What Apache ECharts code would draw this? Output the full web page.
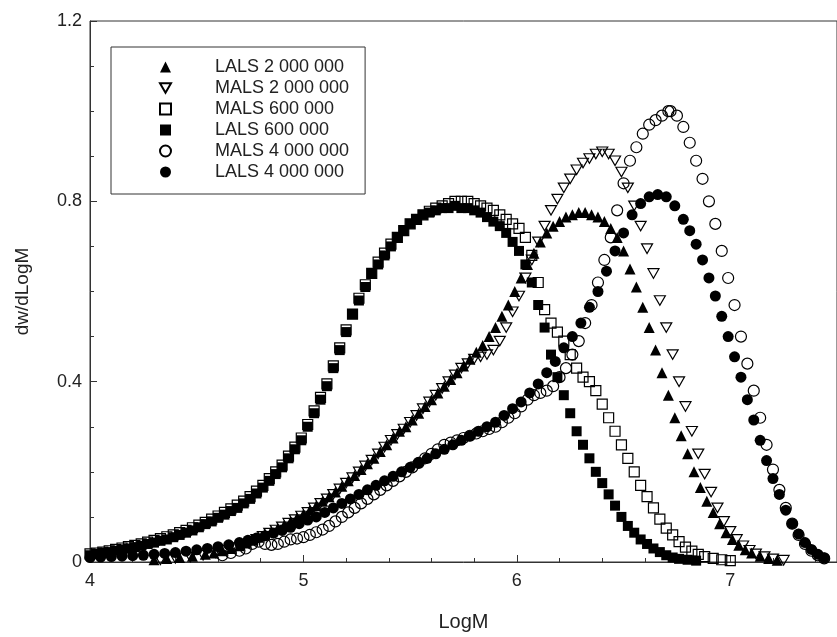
<!DOCTYPE html>
<html>
<head>
<meta charset="utf-8">
<script src="https://cdn.jsdelivr.net/npm/echarts@6/dist/echarts.min.js"></script>
<style>
  html, body { margin: 0; padding: 0; background: #fff; }
  #chart { width: 837px; height: 637px; }
</style>
</head>
<body>
<div id="chart"></div>
<script>
// Molar mass distributions (dw/dLogM vs LogM) from LALS and MALS detection

const xTicks = [4, 5, 6, 7];
const yTicks = [0, 0.4, 0.8, 1.2];

const lals2mX = [4.30,4.36,4.42,4.48,4.54,4.58,4.62,4.66,4.70,4.73,4.76,4.79,4.82,4.85,4.88,4.91,4.94,4.97,5.00,5.03,5.06,5.09,5.12,5.15,5.18,5.21,5.24,5.27,5.30,5.33,5.36,5.39,5.42,5.45,5.48,5.51,5.54,5.57,5.60,5.63,5.66,5.69,5.72,5.75,5.78,5.81,5.84,5.87,5.90,5.93,5.96,5.99,6.02,6.05,6.08,6.11,6.14,6.17,6.20,6.23,6.26,6.29,6.32,6.35,6.38,6.41,6.44,6.47,6.50,6.53,6.56,6.59,6.62,6.65,6.68,6.71,6.74,6.77,6.80,6.83,6.86,6.89,6.92,6.95,6.98,7.01,7.04,7.07,7.10,7.14,7.18,7.22];
const lals2mY = [0.005,0.008,0.01,0.013,0.017,0.02,0.025,0.03,0.036,0.042,0.048,0.055,0.062,0.068,0.075,0.082,0.09,0.098,0.106,0.115,0.125,0.135,0.145,0.155,0.168,0.18,0.192,0.205,0.218,0.23,0.245,0.26,0.275,0.29,0.30,0.315,0.33,0.345,0.36,0.375,0.39,0.405,0.42,0.435,0.45,0.465,0.48,0.50,0.52,0.545,0.57,0.60,0.63,0.66,0.685,0.71,0.73,0.745,0.755,0.765,0.77,0.775,0.775,0.77,0.765,0.755,0.74,0.72,0.69,0.65,0.61,0.565,0.52,0.47,0.42,0.37,0.32,0.28,0.24,0.20,0.165,0.135,0.11,0.085,0.065,0.05,0.037,0.027,0.02,0.013,0.008,0.004];

const mals2mX = [4.33,4.40,4.47,4.53,4.59,4.64,4.68,4.72,4.75,4.78,4.81,4.84,4.87,4.90,4.93,4.96,4.99,5.02,5.05,5.08,5.11,5.14,5.17,5.20,5.23,5.26,5.29,5.32,5.35,5.38,5.41,5.44,5.47,5.50,5.53,5.56,5.59,5.62,5.65,5.68,5.71,5.74,5.77,5.80,5.83,5.86,5.89,5.92,5.95,5.98,6.01,6.04,6.07,6.10,6.13,6.16,6.19,6.22,6.25,6.28,6.31,6.34,6.37,6.40,6.43,6.46,6.49,6.52,6.55,6.58,6.61,6.64,6.67,6.70,6.73,6.76,6.79,6.82,6.85,6.88,6.91,6.94,6.97,7.00,7.03,7.06,7.09,7.12,7.16,7.20,7.25];
const mals2mY = [0.005,0.008,0.011,0.015,0.02,0.026,0.032,0.038,0.044,0.05,0.057,0.064,0.071,0.078,0.086,0.094,0.102,0.11,0.12,0.13,0.14,0.15,0.162,0.175,0.187,0.20,0.213,0.226,0.24,0.255,0.27,0.283,0.295,0.31,0.325,0.34,0.355,0.37,0.385,0.40,0.415,0.43,0.44,0.45,0.455,0.46,0.47,0.49,0.52,0.555,0.59,0.63,0.67,0.71,0.745,0.78,0.805,0.83,0.85,0.87,0.885,0.895,0.905,0.91,0.905,0.89,0.865,0.83,0.79,0.745,0.695,0.64,0.58,0.52,0.46,0.40,0.345,0.29,0.24,0.195,0.155,0.12,0.09,0.068,0.05,0.036,0.026,0.018,0.012,0.007,0.004];

const mals600kX = [4.00,4.03,4.06,4.09,4.12,4.15,4.18,4.21,4.24,4.27,4.30,4.33,4.36,4.39,4.42,4.45,4.48,4.51,4.54,4.57,4.60,4.63,4.66,4.69,4.72,4.75,4.78,4.81,4.84,4.87,4.90,4.93,4.96,4.99,5.02,5.05,5.08,5.11,5.14,5.17,5.20,5.23,5.26,5.29,5.32,5.35,5.38,5.41,5.44,5.47,5.50,5.53,5.56,5.59,5.62,5.65,5.68,5.71,5.74,5.77,5.80,5.83,5.86,5.89,5.92,5.95,5.98,6.01,6.04,6.07,6.10,6.13,6.16,6.19,6.22,6.25,6.28,6.31,6.34,6.37,6.40,6.43,6.46,6.49,6.52,6.55,6.58,6.61,6.64,6.67,6.70,6.73,6.76,6.79,6.82,6.85,6.88,6.92,6.96,7.00];
const mals600kY = [0.018,0.02,0.022,0.025,0.028,0.031,0.034,0.037,0.04,0.044,0.048,0.052,0.056,0.06,0.065,0.07,0.076,0.082,0.088,0.095,0.102,0.11,0.118,0.126,0.135,0.145,0.157,0.17,0.185,0.20,0.215,0.235,0.255,0.275,0.305,0.335,0.365,0.395,0.435,0.475,0.515,0.55,0.585,0.615,0.64,0.665,0.685,0.705,0.72,0.735,0.75,0.76,0.77,0.778,0.785,0.79,0.795,0.80,0.80,0.80,0.795,0.79,0.785,0.78,0.77,0.76,0.75,0.74,0.72,0.68,0.62,0.56,0.53,0.51,0.49,0.46,0.43,0.41,0.40,0.38,0.35,0.32,0.29,0.26,0.23,0.20,0.17,0.145,0.12,0.095,0.075,0.06,0.045,0.033,0.024,0.017,0.012,0.008,0.005,0.003];

const lals600kX = [4.00,4.03,4.06,4.09,4.12,4.15,4.18,4.21,4.24,4.27,4.30,4.33,4.36,4.39,4.42,4.45,4.48,4.51,4.54,4.57,4.60,4.63,4.66,4.69,4.72,4.75,4.78,4.81,4.84,4.87,4.90,4.93,4.96,4.99,5.02,5.05,5.08,5.11,5.14,5.17,5.20,5.23,5.26,5.29,5.32,5.35,5.38,5.41,5.44,5.47,5.50,5.53,5.56,5.59,5.62,5.65,5.68,5.71,5.74,5.77,5.80,5.83,5.86,5.89,5.92,5.95,5.98,6.01,6.04,6.07,6.10,6.13,6.16,6.19,6.22,6.25,6.28,6.31,6.34,6.37,6.40,6.43,6.46,6.49,6.52,6.55,6.58,6.61,6.64,6.67,6.70,6.73,6.76,6.80,6.84];
const lals600kY = [0.015,0.018,0.02,0.022,0.025,0.028,0.03,0.033,0.036,0.04,0.043,0.047,0.05,0.055,0.06,0.065,0.07,0.077,0.084,0.09,0.098,0.105,0.113,0.12,0.13,0.14,0.152,0.165,0.18,0.195,0.21,0.23,0.25,0.27,0.30,0.33,0.36,0.39,0.43,0.47,0.51,0.55,0.58,0.61,0.64,0.66,0.68,0.70,0.72,0.735,0.75,0.76,0.77,0.775,0.78,0.785,0.785,0.79,0.785,0.785,0.78,0.775,0.765,0.755,0.745,0.73,0.71,0.69,0.66,0.62,0.57,0.52,0.46,0.41,0.37,0.33,0.29,0.26,0.23,0.20,0.175,0.15,0.125,0.10,0.08,0.065,0.05,0.04,0.03,0.022,0.015,0.01,0.007,0.005,0.003];

const mals4mX = [4.62,4.66,4.70,4.73,4.76,4.79,4.82,4.85,4.88,4.91,4.94,4.97,5.00,5.03,5.06,5.09,5.12,5.15,5.18,5.21,5.24,5.27,5.30,5.33,5.36,5.39,5.42,5.45,5.48,5.51,5.54,5.57,5.60,5.63,5.66,5.69,5.72,5.75,5.78,5.81,5.84,5.87,5.90,5.93,5.96,5.99,6.02,6.05,6.08,6.11,6.14,6.17,6.20,6.23,6.26,6.29,6.32,6.35,6.38,6.41,6.44,6.47,6.50,6.53,6.56,6.59,6.62,6.65,6.68,6.71,6.72,6.75,6.78,6.81,6.84,6.87,6.90,6.93,6.96,6.99,7.02,7.05,7.08,7.11,7.14,7.17,7.20,7.23,7.26,7.29,7.32,7.35,7.38,7.41,7.44];
const mals4mY = [0.015,0.02,0.025,0.03,0.04,0.045,0.04,0.038,0.04,0.045,0.05,0.052,0.055,0.06,0.066,0.072,0.08,0.09,0.10,0.11,0.12,0.13,0.14,0.15,0.16,0.17,0.18,0.19,0.20,0.21,0.22,0.23,0.24,0.25,0.26,0.265,0.27,0.275,0.28,0.285,0.29,0.295,0.30,0.31,0.32,0.33,0.345,0.36,0.37,0.375,0.38,0.39,0.41,0.43,0.46,0.49,0.53,0.57,0.62,0.67,0.72,0.78,0.84,0.89,0.92,0.95,0.97,0.98,0.99,1.0,1.0,0.99,0.965,0.93,0.89,0.85,0.80,0.75,0.69,0.63,0.57,0.50,0.44,0.38,0.32,0.26,0.205,0.16,0.12,0.085,0.06,0.04,0.025,0.015,0.008];

const lals4mX = [4.00,4.05,4.10,4.15,4.20,4.25,4.30,4.35,4.40,4.45,4.50,4.55,4.60,4.65,4.70,4.74,4.78,4.82,4.86,4.90,4.94,4.98,5.02,5.06,5.10,5.14,5.18,5.22,5.26,5.30,5.34,5.38,5.42,5.46,5.50,5.54,5.58,5.62,5.66,5.70,5.74,5.78,5.82,5.86,5.90,5.94,5.98,6.02,6.06,6.10,6.14,6.18,6.22,6.26,6.30,6.34,6.38,6.42,6.46,6.50,6.54,6.58,6.62,6.66,6.70,6.74,6.78,6.81,6.84,6.87,6.90,6.93,6.96,6.99,7.02,7.05,7.08,7.11,7.14,7.17,7.20,7.23,7.26,7.29,7.32,7.35,7.38,7.41,7.44];
const lals4mY = [0.01,0.011,0.012,0.013,0.014,0.015,0.017,0.019,0.021,0.024,0.027,0.03,0.034,0.038,0.043,0.048,0.053,0.058,0.064,0.07,0.077,0.085,0.093,0.10,0.11,0.12,0.13,0.14,0.15,0.16,0.17,0.18,0.19,0.20,0.21,0.22,0.23,0.24,0.25,0.26,0.27,0.28,0.29,0.30,0.31,0.325,0.34,0.355,0.375,0.395,0.42,0.445,0.475,0.50,0.53,0.565,0.60,0.645,0.69,0.73,0.77,0.795,0.81,0.815,0.81,0.79,0.76,0.735,0.705,0.67,0.63,0.59,0.545,0.50,0.455,0.41,0.36,0.315,0.27,0.225,0.185,0.15,0.115,0.085,0.062,0.043,0.028,0.017,0.009];

function pairs(xs, ys) {
  return xs.map((x, i) => [x, ys[i]]);
}

const INK = '#000';
const hollow = { color: 'rgba(255,255,255,0)', borderColor: INK, borderWidth: 1.2, opacity: 1 };
const solid = { color: INK, borderColor: INK, borderWidth: 0, opacity: 1 };
const DOWN_TRIANGLE = 'path://M0,0L20,0L10,17.32Z';

const series = [
  { name: 'LALS 2 000 000', symbol: 'triangle', symbolSize: 11, itemStyle: solid, xs: lals2mX, ys: lals2mY },
  { name: 'MALS 2 000 000', symbol: DOWN_TRIANGLE, symbolSize: 11, itemStyle: hollow, xs: mals2mX, ys: mals2mY },
  { name: 'MALS 600 000', symbol: 'rect', symbolSize: 10, itemStyle: hollow, xs: mals600kX, ys: mals600kY },
  { name: 'LALS 600 000', symbol: 'rect', symbolSize: 10, itemStyle: solid, xs: lals600kX, ys: lals600kY },
  { name: 'MALS 4 000 000', symbol: 'circle', symbolSize: 11, itemStyle: hollow, xs: mals4mX, ys: mals4mY },
  { name: 'LALS 4 000 000', symbol: 'circle', symbolSize: 11, itemStyle: solid, xs: lals4mX, ys: lals4mY }
].map(s => ({
  type: 'scatter',
  name: s.name,
  symbol: s.symbol,
  symbolSize: s.symbolSize,
  symbolKeepAspect: true,
  itemStyle: s.itemStyle,
  data: pairs(s.xs, s.ys),
  animation: false,
  emphasis: { disabled: true },
  clip: true
}));

const FONT = '"Liberation Sans", Arial, Helvetica, sans-serif';
const chart = echarts.init(document.getElementById('chart'), null, { renderer: 'canvas' });

chart.setOption({
  backgroundColor: '#fff',
  animation: false,
  textStyle: { fontFamily: FONT, color: '#222' },
  grid: {
    left: 90, top: 21, right: -9, bottom: 68,
    show: true, borderColor: '#333', borderWidth: 1, backgroundColor: 'transparent'
  },
  legend: {
    orient: 'vertical',
    left: 111, top: 47,
    padding: [11, 16, 13, 48],
    itemWidth: 11, itemHeight: 11,
    itemGap: 3,
    borderColor: '#333', borderWidth: 1,
    backgroundColor: '#fff',
    selectedMode: false,
    textStyle: { fontFamily: FONT, fontSize: 18, color: '#222', lineHeight: 18, padding: [0, 0, 0, 39] },
    data: series.map(s => s.name)
  },
  xAxis: {
    type: 'value',
    min: xTicks[0], max: 7.5, interval: 1,
    name: 'LogM', nameLocation: 'middle', nameGap: 50,
    nameTextStyle: { fontFamily: FONT, fontSize: 20, color: '#222' },
    axisLine: { show: true, lineStyle: { color: '#333', width: 1 } },
    axisTick: { show: true, inside: true, length: 7, lineStyle: { color: '#333' } },
    minorTick: { show: true, splitNumber: 5, length: 4, lineStyle: { color: '#333' } },
    axisLabel: {
      fontFamily: FONT, fontSize: 18, color: '#222', margin: 10, showMaxLabel: false,
      formatter: v => (xTicks.includes(v) ? String(v) : '')
    },
    splitLine: { show: false }
  },
  yAxis: {
    type: 'value',
    min: yTicks[0], max: yTicks[yTicks.length - 1], interval: 0.4,
    name: 'dw/dLogM', nameLocation: 'middle', nameGap: 58, nameRotate: 90,
    nameTextStyle: { fontFamily: FONT, fontSize: 19, color: '#222' },
    axisLine: { show: true, lineStyle: { color: '#333', width: 1 } },
    axisTick: { show: true, inside: true, length: 7, lineStyle: { color: '#333' } },
    minorTick: { show: true, splitNumber: 4, length: 4, lineStyle: { color: '#333' } },
    axisLabel: {
      fontFamily: FONT, fontSize: 18, color: '#222', margin: 8,
      formatter: v => (v === 0 ? '0' : v.toFixed(1))
    },
    splitLine: { show: false }
  },
  series: series
});
</script>
</body>
</html>
